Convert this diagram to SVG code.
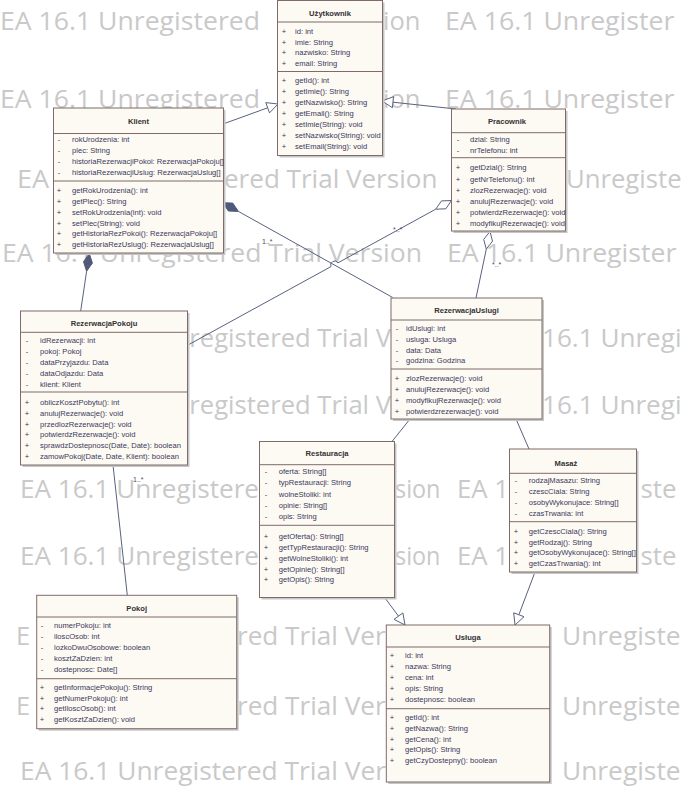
<svg xmlns="http://www.w3.org/2000/svg" width="682" height="807" viewBox="0 0 682 807">
<style>
.bg{fill:#ffffff}
.wm{font-family:"Open Sans","Liberation Sans",sans-serif;font-size:26px;fill:#c9c9c9}
.sh{fill:#c6c6c6}
.box{fill:#fdf9f3;stroke:#7f6b6b;stroke-width:1}
.sep{stroke:#7f6b6b;stroke-width:1}
.t{font-family:"Liberation Sans",Arial,sans-serif;font-size:7.6px;fill:#393a5c}
.m{font-family:"Liberation Sans",Arial,sans-serif;font-size:7.6px;fill:#393a5c;text-anchor:middle}
.ti{font-family:"Liberation Sans",Arial,sans-serif;font-size:7.6px;font-weight:bold;fill:#333333;text-anchor:middle}
.ln{stroke:#59617e;stroke-width:1;fill:none}
.fd{fill:#505a78;stroke:#505a78;stroke-width:1}
.hd{fill:#ffffff;stroke:#59617e;stroke-width:1}
.lb{font-family:"Liberation Sans",Arial,sans-serif;font-size:7px;fill:#4a4a6a}
</style>
<rect class="bg" x="0" y="0" width="682" height="807"/>
<g id="watermark">
<text class="wm" x="0" y="30" textLength="260" lengthAdjust="spacingAndGlyphs">EA 16.1 Unregistered</text>
<text class="wm" x="383" y="30" textLength="37.4" lengthAdjust="spacingAndGlyphs">ion</text>
<text class="wm" x="445" y="30" textLength="229.5" lengthAdjust="spacingAndGlyphs">EA 16.1 Unregister</text>
<text class="wm" x="0" y="108" textLength="260" lengthAdjust="spacingAndGlyphs">EA 16.1 Unregistered</text>
<text class="wm" x="383" y="108" textLength="37.4" lengthAdjust="spacingAndGlyphs">ion</text>
<text class="wm" x="445" y="108" textLength="229.5" lengthAdjust="spacingAndGlyphs">EA 16.1 Unregister</text>
<text class="wm" x="17" y="188" textLength="32.2" lengthAdjust="spacingAndGlyphs">EA</text>
<text class="wm" x="224" y="188" textLength="213.4" lengthAdjust="spacingAndGlyphs">ered Trial Version</text>
<text class="wm" x="566" y="188" textLength="115.6" lengthAdjust="spacingAndGlyphs">Unregiste</text>
<text class="wm" x="2" y="262" textLength="420" lengthAdjust="spacingAndGlyphs">EA 16.1 Unregistered Trial Version</text>
<text class="wm" x="447" y="262" textLength="229.5" lengthAdjust="spacingAndGlyphs">EA 16.1 Unregister</text>
<text class="wm" x="189.3" y="347" textLength="201.7" lengthAdjust="spacingAndGlyphs">registered Trial V</text>
<text class="wm" x="542" y="347" textLength="139.5" lengthAdjust="spacingAndGlyphs">16.1 Unregi</text>
<text class="wm" x="189.3" y="414" textLength="201.7" lengthAdjust="spacingAndGlyphs">registered Trial V</text>
<text class="wm" x="542" y="414" textLength="139.5" lengthAdjust="spacingAndGlyphs">16.1 Unregi</text>
<text class="wm" x="20" y="498" textLength="239" lengthAdjust="spacingAndGlyphs">EA 16.1 Unregistere</text>
<text class="wm" x="395" y="498" textLength="45.4" lengthAdjust="spacingAndGlyphs">sion</text>
<text class="wm" x="457" y="498" textLength="52" lengthAdjust="spacingAndGlyphs">EA 1</text>
<text class="wm" x="640.5" y="498" textLength="36.1" lengthAdjust="spacingAndGlyphs">ste</text>
<text class="wm" x="20" y="565" textLength="239" lengthAdjust="spacingAndGlyphs">EA 16.1 Unregistere</text>
<text class="wm" x="395" y="565" textLength="45.4" lengthAdjust="spacingAndGlyphs">sion</text>
<text class="wm" x="457" y="565" textLength="52" lengthAdjust="spacingAndGlyphs">EA 1</text>
<text class="wm" x="640.5" y="565" textLength="36.1" lengthAdjust="spacingAndGlyphs">ste</text>
<text class="wm" x="16" y="645" textLength="14.1" lengthAdjust="spacingAndGlyphs">E</text>
<text class="wm" x="237" y="645" textLength="148.6" lengthAdjust="spacingAndGlyphs">red Trial Ver</text>
<text class="wm" x="562" y="645" textLength="118.6" lengthAdjust="spacingAndGlyphs">Unregiste</text>
<text class="wm" x="16" y="715" textLength="14.1" lengthAdjust="spacingAndGlyphs">E</text>
<text class="wm" x="237" y="715" textLength="148.6" lengthAdjust="spacingAndGlyphs">red Trial Ver</text>
<text class="wm" x="562" y="715" textLength="118.6" lengthAdjust="spacingAndGlyphs">Unregiste</text>
<text class="wm" x="20" y="780" textLength="366" lengthAdjust="spacingAndGlyphs">EA 16.1 Unregistered Trial Ver</text>
<text class="wm" x="562" y="780" textLength="118.6" lengthAdjust="spacingAndGlyphs">Unregiste</text>
</g>

<g id="connectors">
<line class="ln" x1="223" y1="124" x2="267.7" y2="107.8"/>
<polygon class="hd" points="278,104 269.5,112.9 265.8,102.6"/>
<line class="ln" x1="456" y1="109" x2="392.9" y2="102.2"/>
<polygon class="hd" points="382,101 393.5,96.7 392.4,107.7"/>
<line class="ln" x1="86.6" y1="271.3" x2="80.7" y2="311"/>
<polygon class="fd" points="89.3,253.5 92.4,263.1 86.6,271.3 83.5,261.7"/>
<text class="lb" x="61" y="333">*..1</text>
<line class="ln" x1="238.4" y1="211.4" x2="392.7" y2="297.5"/>
<polygon class="fd" points="222.7,202.7 232.75,203.1 238.4,211.4 228.4,211"/>
<text class="lb" x="262" y="244">1..*</text>
<path class="ln" d="M435.7,209.2 L338,262.8 A4,4 0 0 0 331,266.6 L188,345"/>
<polygon class="hd" points="451.5,200.5 445.8,208.8 435.7,209.2 441.5,200.9"/>
<text class="lb" x="393" y="232">*..*</text>
<line class="ln" x1="486.3" y1="249.1" x2="476" y2="298"/>
<polygon class="hd" points="490,231.5 492.5,241.2 486.3,249.1 483.7,239.4"/>
<text class="lb" x="492" y="267">*..*</text>
<line class="ln" x1="113" y1="465" x2="127.3" y2="595.3"/>
<text class="lb" x="133" y="482">1..*</text>
<line class="ln" x1="410" y1="419" x2="392" y2="441.5"/>
<line class="ln" x1="516" y1="419" x2="529" y2="449"/>
<line class="ln" x1="385" y1="598" x2="398.5" y2="616.2"/>
<polygon class="hd" points="405,625 394,619.4 402.9,612.9"/>
<line class="ln" x1="535" y1="572" x2="518.9" y2="614.7"/>
<polygon class="hd" points="515,625 524,616.7 513.7,612.8"/>
</g>

<g id="Uzytkownik">
<rect class="sh" x="279.5" y="2.5" width="105" height="155"/>
<rect class="box" x="277.5" y="0.5" width="105" height="155"/>
<text class="ti" x="330" y="15.7">Użytkownik</text>
<line class="sep" x1="277.5" y1="22" x2="382.5" y2="22"/>
<text class="m" x="284" y="33.7">+</text><text class="t" x="295" y="33.7">id: int</text>
<text class="m" x="284" y="44.5">+</text><text class="t" x="295" y="44.5">imie: String</text>
<text class="m" x="284" y="55.2">+</text><text class="t" x="295" y="55.2">nazwisko: String</text>
<text class="m" x="284" y="66">+</text><text class="t" x="295" y="66">email: String</text>
<line class="sep" x1="277.5" y1="71.5" x2="382.5" y2="71.5"/>
<text class="m" x="284" y="83.4">+</text><text class="t" x="295" y="83.4">getId(): int</text>
<text class="m" x="284" y="94.2">+</text><text class="t" x="295" y="94.2">getImie(): String</text>
<text class="m" x="284" y="105.1">+</text><text class="t" x="295" y="105.1">getNazwisko(): String</text>
<text class="m" x="284" y="116.1">+</text><text class="t" x="295" y="116.1">getEmail(): String</text>
<text class="m" x="284" y="127">+</text><text class="t" x="295" y="127">setImie(String): void</text>
<text class="m" x="284" y="137.9">+</text><text class="t" x="295" y="137.9">setNazwisko(String): void</text>
<text class="m" x="284" y="148.8">+</text><text class="t" x="295" y="148.8">setEmail(String): void</text>
</g>

<g id="Klient">
<rect class="sh" x="55.5" y="110" width="170" height="145"/>
<rect class="box" x="53.5" y="108" width="170" height="145"/>
<text class="ti" x="138.5" y="123.7">Klient</text>
<line class="sep" x1="53.5" y1="133.5" x2="223.5" y2="133.5"/>
<text class="m" x="59" y="142">-</text><text class="t" x="72" y="142">rokUrodzenia: int</text>
<text class="m" x="59" y="153">-</text><text class="t" x="72" y="153">plec: String</text>
<text class="m" x="59" y="164.2">-</text><text class="t" x="72" y="164.2">historiaRezerwacjiPokoi: RezerwacjaPokoju[]</text>
<text class="m" x="59" y="175.3">-</text><text class="t" x="72" y="175.3">historiaRezerwacjiUslug: RezerwacjaUslug[]</text>
<line class="sep" x1="53.5" y1="181" x2="223.5" y2="181"/>
<text class="m" x="59" y="193">+</text><text class="t" x="72" y="193">getRokUrodzenia(): int</text>
<text class="m" x="59" y="203.8">+</text><text class="t" x="72" y="203.8">getPlec(): String</text>
<text class="m" x="59" y="214.8">+</text><text class="t" x="72" y="214.8">setRokUrodzenia(int): void</text>
<text class="m" x="59" y="225.5">+</text><text class="t" x="72" y="225.5">setPlec(String): void</text>
<text class="m" x="59" y="236.2">+</text><text class="t" x="72" y="236.2">getHistoriaRezPokoi(): RezerwacjaPokoju[]</text>
<text class="m" x="59" y="247">+</text><text class="t" x="72" y="247">getHistoriaRezUslug(): RezerwacjaUslug[]</text>
</g>

<g id="Pracownik">
<rect class="sh" x="453.5" y="111" width="114" height="122"/>
<rect class="box" x="451.5" y="109" width="114" height="122"/>
<text class="ti" x="507" y="123.7">Pracownik</text>
<line class="sep" x1="451.5" y1="132.7" x2="565.5" y2="132.7"/>
<text class="m" x="458" y="142">-</text><text class="t" x="470" y="142">dzial: String</text>
<text class="m" x="458" y="153">-</text><text class="t" x="470" y="153">nrTelefonu: int</text>
<line class="sep" x1="451.5" y1="157.7" x2="565.5" y2="157.7"/>
<text class="m" x="458" y="170.4">+</text><text class="t" x="470" y="170.4">getDzial(): String</text>
<text class="m" x="458" y="181.5">+</text><text class="t" x="470" y="181.5">getNrTelefonu(): int</text>
<text class="m" x="458" y="192.6">+</text><text class="t" x="470" y="192.6">zlozRezerwacje(): void</text>
<text class="m" x="458" y="203.6">+</text><text class="t" x="470" y="203.6">anulujRezerwacje(): void</text>
<text class="m" x="458" y="214.7">+</text><text class="t" x="470" y="214.7">potwierdzRezerwacje(): void</text>
<text class="m" x="458" y="225.5">+</text><text class="t" x="470" y="225.5">modyfikujRezerwacje(): void</text>
</g>

<g id="RezerwacjaPokoju">
<rect class="sh" x="22.5" y="313" width="167" height="154"/>
<rect class="box" x="20.5" y="311" width="167" height="154"/>
<text class="ti" x="104" y="325.5">RezerwacjaPokoju</text>
<line class="sep" x1="20.5" y1="332.3" x2="187.5" y2="332.3"/>
<text class="m" x="27" y="343.4">-</text><text class="t" x="40" y="343.4">idRezerwacji: int</text>
<text class="m" x="27" y="354.3">-</text><text class="t" x="40" y="354.3">pokoj: Pokoj</text>
<text class="m" x="27" y="365">-</text><text class="t" x="40" y="365">dataPrzyjazdu: Data</text>
<text class="m" x="27" y="376">-</text><text class="t" x="40" y="376">dataOdjazdu: Data</text>
<text class="m" x="27" y="387">-</text><text class="t" x="40" y="387">klient: Klient</text>
<line class="sep" x1="20.5" y1="392" x2="187.5" y2="392"/>
<text class="m" x="27" y="405">+</text><text class="t" x="40" y="405">obliczKosztPobytu(): int</text>
<text class="m" x="27" y="415.7">+</text><text class="t" x="40" y="415.7">anulujRezerwacje(): void</text>
<text class="m" x="27" y="426.5">+</text><text class="t" x="40" y="426.5">przedlozRezerwacje(): void</text>
<text class="m" x="27" y="437.3">+</text><text class="t" x="40" y="437.3">potwierdzRezerwacje(): void</text>
<text class="m" x="27" y="448">+</text><text class="t" x="40" y="448">sprawdzDostepnosc(Date, Date): boolean</text>
<text class="m" x="27" y="459">+</text><text class="t" x="40" y="459">zamowPokoj(Date, Date, Klient): boolean</text>
</g>

<g id="RezerwacjaUslugi">
<rect class="sh" x="393" y="300" width="151" height="121"/>
<rect class="box" x="391" y="298" width="151" height="121"/>
<text class="ti" x="466.5" y="312.7">RezerwacjaUslugi</text>
<line class="sep" x1="391" y1="320" x2="542" y2="320"/>
<text class="m" x="397" y="330.7">-</text><text class="t" x="406" y="330.7">idUslugi: int</text>
<text class="m" x="397" y="341.5">-</text><text class="t" x="406" y="341.5">usluga: Usluga</text>
<text class="m" x="397" y="352.5">-</text><text class="t" x="406" y="352.5">data: Data</text>
<text class="m" x="397" y="363.3">-</text><text class="t" x="406" y="363.3">godzina: Godzina</text>
<line class="sep" x1="391" y1="369" x2="542" y2="369"/>
<text class="m" x="397" y="381">+</text><text class="t" x="406" y="381">zlozRezerwacje(): void</text>
<text class="m" x="397" y="392.2">+</text><text class="t" x="406" y="392.2">anulujRezerwacje(): void</text>
<text class="m" x="397" y="403.3">+</text><text class="t" x="406" y="403.3">modyfikujRezerwacje(): void</text>
<text class="m" x="397" y="414.3">+</text><text class="t" x="406" y="414.3">potwierdzrezerwacje(): void</text>
</g>

<g id="Restauracja">
<rect class="sh" x="261.5" y="443.5" width="135" height="156"/>
<rect class="box" x="259.5" y="441.5" width="135" height="156"/>
<text class="ti" x="327" y="455.7">Restauracja</text>
<line class="sep" x1="259.5" y1="464.7" x2="394.5" y2="464.7"/>
<text class="m" x="266" y="474.4">-</text><text class="t" x="278.7" y="474.4">oferta: String[]</text>
<text class="m" x="266" y="485.4">-</text><text class="t" x="278.7" y="485.4">typRestauracji: String</text>
<text class="m" x="266" y="496.6">-</text><text class="t" x="278.7" y="496.6">wolneStoliki: int</text>
<text class="m" x="266" y="507.8">-</text><text class="t" x="278.7" y="507.8">opinie: String[]</text>
<text class="m" x="266" y="519">-</text><text class="t" x="278.7" y="519">opis: String</text>
<line class="sep" x1="259.5" y1="525.3" x2="394.5" y2="525.3"/>
<text class="m" x="266" y="538.7">+</text><text class="t" x="278.7" y="538.7">getOferta(): String[]</text>
<text class="m" x="266" y="549.7">+</text><text class="t" x="278.7" y="549.7">getTypRestauracji(): String</text>
<text class="m" x="266" y="560.6">+</text><text class="t" x="278.7" y="560.6">getWolneStoliki(): int</text>
<text class="m" x="266" y="571.5">+</text><text class="t" x="278.7" y="571.5">getOpinie(): String[]</text>
<text class="m" x="266" y="582.3">+</text><text class="t" x="278.7" y="582.3">getOpis(): String</text>
</g>

<g id="Masaz">
<rect class="sh" x="511.5" y="451" width="127" height="123"/>
<rect class="box" x="509.5" y="449" width="127" height="123"/>
<text class="ti" x="566" y="466">Masaż</text>
<line class="sep" x1="509.5" y1="473.3" x2="636.5" y2="473.3"/>
<text class="m" x="516" y="482.7">-</text><text class="t" x="528.7" y="482.7">rodzajMasazu: String</text>
<text class="m" x="516" y="493.7">-</text><text class="t" x="528.7" y="493.7">czescCiala: String</text>
<text class="m" x="516" y="505">-</text><text class="t" x="528.7" y="505">osobyWykonujace: String[]</text>
<text class="m" x="516" y="516">-</text><text class="t" x="528.7" y="516">czasTrwania: int</text>
<line class="sep" x1="509.5" y1="521.7" x2="636.5" y2="521.7"/>
<text class="m" x="516" y="534.4">+</text><text class="t" x="528.7" y="534.4">getCzescCiala(): String</text>
<text class="m" x="516" y="545">+</text><text class="t" x="528.7" y="545">getRodzaj(): String</text>
<text class="m" x="516" y="555.4">+</text><text class="t" x="528.7" y="555.4">getOsobyWykonujace(): String[]</text>
<text class="m" x="516" y="566">+</text><text class="t" x="528.7" y="566">getCzasTrwania(): int</text>
</g>

<g id="Pokoj">
<rect class="sh" x="38.7" y="597.3" width="200" height="133.4"/>
<rect class="box" x="36.7" y="595.3" width="200" height="133.4"/>
<text class="ti" x="136.7" y="610.7">Pokoj</text>
<line class="sep" x1="36.7" y1="617" x2="236.7" y2="617"/>
<text class="m" x="42" y="628">-</text><text class="t" x="54" y="628">numerPokoju: int</text>
<text class="m" x="42" y="639">-</text><text class="t" x="54" y="639">iloscOsob: int</text>
<text class="m" x="42" y="650">-</text><text class="t" x="54" y="650">lozkoDwuOsobowe: boolean</text>
<text class="m" x="42" y="661">-</text><text class="t" x="54" y="661">kosztZaDzien: int</text>
<text class="m" x="42" y="672">-</text><text class="t" x="54" y="672">dostepnosc: Date[]</text>
<line class="sep" x1="36.7" y1="678.7" x2="236.7" y2="678.7"/>
<text class="m" x="42" y="690">+</text><text class="t" x="54" y="690">getInformacjePokoju(): String</text>
<text class="m" x="42" y="700.7">+</text><text class="t" x="54" y="700.7">getNumerPokoju(): int</text>
<text class="m" x="42" y="711.4">+</text><text class="t" x="54" y="711.4">getIloscOsob(): int</text>
<text class="m" x="42" y="722">+</text><text class="t" x="54" y="722">getKosztZaDzien(): void</text>
</g>

<g id="Usluga">
<rect class="sh" x="388.3" y="627" width="163.4" height="157"/>
<rect class="box" x="386.3" y="625" width="163.4" height="157"/>
<text class="ti" x="468" y="640.4">Usługa</text>
<line class="sep" x1="386.3" y1="647" x2="549.7" y2="647"/>
<text class="m" x="392" y="658">+</text><text class="t" x="405" y="658">id: int</text>
<text class="m" x="392" y="669">+</text><text class="t" x="405" y="669">nazwa: String</text>
<text class="m" x="392" y="680.4">+</text><text class="t" x="405" y="680.4">cena: int</text>
<text class="m" x="392" y="691.4">+</text><text class="t" x="405" y="691.4">opis: String</text>
<text class="m" x="392" y="702.4">+</text><text class="t" x="405" y="702.4">dostepnosc: boolean</text>
<line class="sep" x1="386.3" y1="708.7" x2="549.7" y2="708.7"/>
<text class="m" x="392" y="720">+</text><text class="t" x="405" y="720">getId(): int</text>
<text class="m" x="392" y="730.7">+</text><text class="t" x="405" y="730.7">getNazwa(): String</text>
<text class="m" x="392" y="741.7">+</text><text class="t" x="405" y="741.7">getCena(): int</text>
<text class="m" x="392" y="752.4">+</text><text class="t" x="405" y="752.4">getOpis(): String</text>
<text class="m" x="392" y="763.4">+</text><text class="t" x="405" y="763.4">getCzyDostepny(): boolean</text>
</g>
</svg>
